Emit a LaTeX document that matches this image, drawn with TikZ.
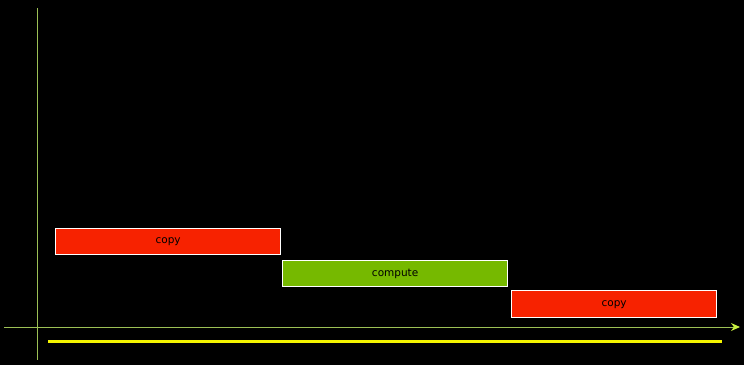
\documentclass[tikz,border=0pt]{standalone}
\usepackage{fontspec}
\setmainfont{DejaVu Sans}
\usetikzlibrary{arrows.meta}
\definecolor{axisc}{HTML}{9CC055}
\definecolor{tipc}{HTML}{C8F040}
\definecolor{copyred}{HTML}{F72200}
\definecolor{nvgreen}{HTML}{76B900}
\definecolor{yel}{HTML}{F5F500}
\tikzset{
  taskbox/.style={draw=white, line width=1.3pt, inner sep=0pt, anchor=north west, font=\fontsize{10.5}{12}\selectfont, text=black},
  axisline/.style={draw=axisc, line width=1pt},
}
\begin{document}
\begin{tikzpicture}[x=1pt,y=-1pt]
\fill[black] (0,0) rectangle (744,365);
\useasboundingbox (0,0) rectangle (744,365);
\coordinate (vtop) at (37,8);
\coordinate (vbot) at (37,360);
\coordinate (hleft) at (4,327);
\coordinate (hright) at (740,327);
\coordinate (yl) at (48,341);
\coordinate (yr) at (722,341);
\draw[axisline] (vtop) -- (vbot);
\draw[axisline, -{Stealth[length=9pt,width=8pt,color=tipc,fill=tipc]}] (hleft) -- (hright);
\draw[yel, line width=3pt] (yl) -- (yr);
\node[taskbox, fill=copyred, minimum width=225pt, minimum height=26pt] (c1) at (55,228) {copy};
\node[taskbox, fill=nvgreen, minimum width=225pt, minimum height=26pt] (cm) at (282,260) {compute};
\node[taskbox, fill=copyred, minimum width=205pt, minimum height=27pt] (c2) at (511,290) {copy};
\end{tikzpicture}
\end{document}
